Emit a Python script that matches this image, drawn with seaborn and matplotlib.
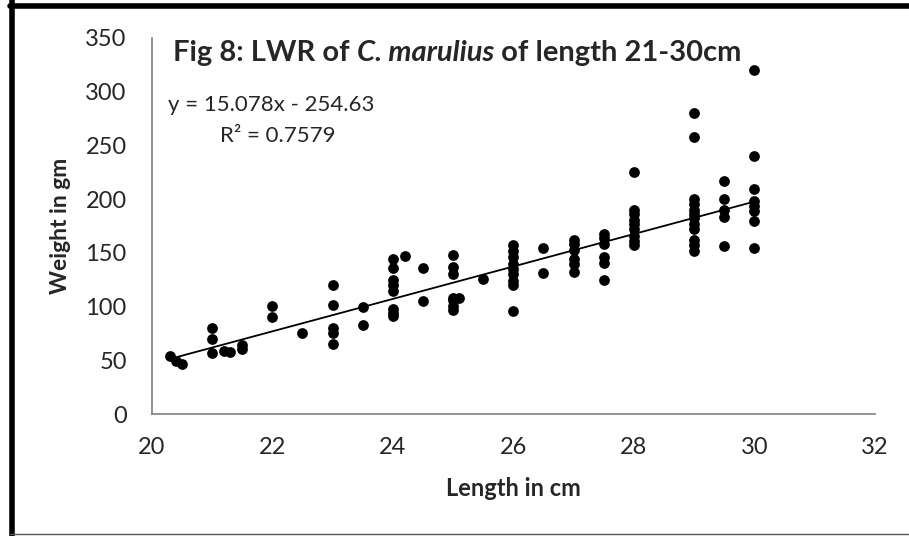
import seaborn as sns
import matplotlib.pyplot as plt
import pandas as pd
import numpy as np
from matplotlib.lines import Line2D

# fish length (cm) and weight (gm)
length = [20.3, 20.4, 20.5,
          21, 21, 21, 21.2, 21.3, 21.5, 21.5,
          22, 22, 22.5,
          23, 23, 23, 23, 23, 23.5, 23.5,
          24, 24, 24, 24, 24, 24, 24, 24, 24.2, 24.5, 24.5,
          25, 25, 25, 25, 25, 25, 25, 25.1, 25.5,
          26, 26, 26, 26, 26, 26, 26, 26, 26, 26.5, 26.5,
          27, 27, 27, 27, 27, 27,
          27.5, 27.5, 27.5, 27.5, 27.5, 27.5,
          28, 28, 28, 28, 28, 28, 28, 28, 28,
          29, 29, 29, 29, 29, 29, 29, 29, 29, 29, 29, 29,
          29.5, 29.5, 29.5, 29.5, 29.5,
          30, 30, 30, 30, 30, 30, 30, 30]
weight = [54, 50, 47,
          80, 70, 57, 59, 58, 64, 61,
          101, 90, 76,
          120, 102, 80, 76, 65, 100, 83,
          144, 136, 125, 120, 115, 98, 94, 91, 147, 136, 105,
          148, 137, 130, 108, 106, 101, 97, 108, 126,
          157, 152, 146, 140, 135, 130, 124, 120, 96, 155, 131,
          162, 158, 153, 144, 140, 132,
          168, 164, 158, 146, 141, 125,
          225, 190, 186, 181, 177, 172, 166, 161, 157,
          280, 258, 200, 195, 190, 186, 182, 177, 172, 162, 157, 152,
          217, 200, 190, 183, 156,
          320, 240, 209, 198, 194, 189, 180, 155]

slope = 15.078
intercept = -254.63
r2 = 0.7579

df = pd.DataFrame({'Length': length, 'Weight': weight})
xs = np.array([df.Length.min(), df.Length.max()])
trend = pd.DataFrame({'Length': xs, 'Weight': slope * xs + intercept})

sns.set_style('white')
plt.rcParams['font.family'] = ['Lato', 'DejaVu Sans']

fig = plt.figure(figsize=(9.09, 5.36), dpi=100)
ax = fig.add_axes([0.1669, 0.227, 0.7957, 0.7027])

sns.scatterplot(data=df, x='Length', y='Weight', color='black', s=60,
                edgecolor='black', linewidth=0, ax=ax)
sns.lineplot(data=trend, x='Length', y='Weight', color='black', lw=1.3, ax=ax)

ax.set_xlim(20, 32)
ax.set_ylim(0, 350)
ax.set_xticks(np.arange(20, 33, 2))
ax.set_yticks(np.arange(0, 351, 50))
sns.despine(ax=ax)
for s in ['left', 'bottom']:
    ax.spines[s].set_color('#898989')
    ax.spines[s].set_linewidth(1.3)
ax.tick_params(axis='both', direction='out', length=6, width=1.3,
               color='#898989', labelsize=17, pad=10)
ax.tick_params(axis='y', pad=12)

ax.set_xlabel('Length in cm', fontsize=17, fontweight='bold', labelpad=14)
ax.set_ylabel('Weight in gm', fontsize=16.5, fontweight='bold', labelpad=10)

# title with italic species name
tkw = dict(fontsize=21, fontweight='bold', va='bottom')
t1 = ax.text(0.03, 0.925, 'Fig 8: LWR of ', transform=ax.transAxes, **tkw)
t2 = ax.annotate('C. marulius', xy=(1, 0), xycoords=t1, style='italic', **tkw)
t3 = ax.annotate(' of length 21-30cm', xy=(1, 0), xycoords=t2, **tkw)

ax.text(20.27, 287, f'y = {slope}x - {abs(intercept)}', fontsize=16, va='center')
ax.text(21.13, 258.5, f'R\u00b2 = {r2}', fontsize=16, va='center')

# chart frame
fig.add_artist(Line2D([12, 12], [0, 536], transform=None, color='black', lw=4))
fig.add_artist(Line2D([10, 909], [530, 530], transform=None, color='black', lw=4))
fig.add_artist(Line2D([10, 909], [2, 2], transform=None, color='#555555', lw=1))

plt.savefig('out.png', dpi=100)
